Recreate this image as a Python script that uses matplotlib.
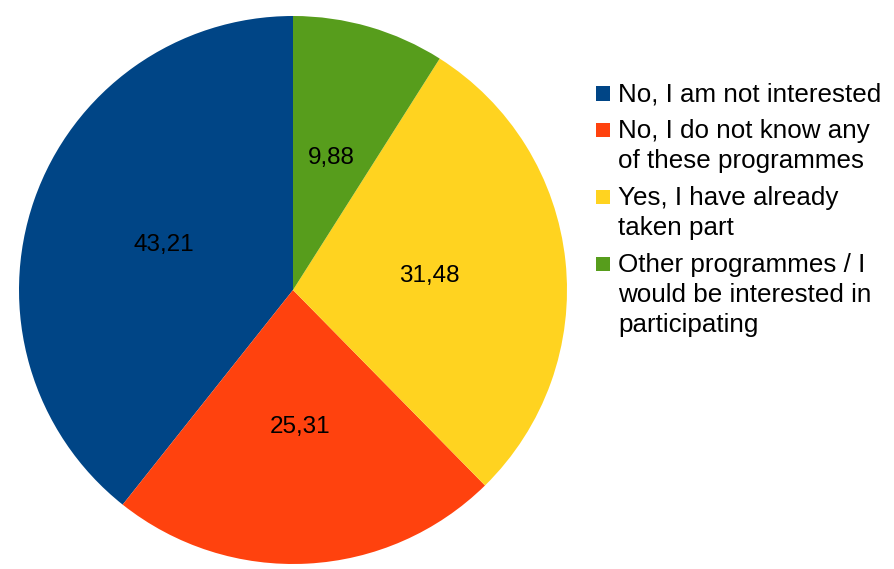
import matplotlib.pyplot as plt
from matplotlib.patches import Rectangle

plt.rcParams["font.family"] = ["Liberation Sans", "DejaVu Sans"]

labels = [
    "No, I am not interested",
    "No, I do not know any\nof these programmes",
    "Yes, I have already\ntaken part",
    "Other programmes / I\nwould be interested in\nparticipating",
]
values = [43.21, 25.31, 31.48, 9.88]
colors = ["#004586", "#ff420e", "#ffd320", "#579d1c"]

W, H = 895, 569
fig = plt.figure(figsize=(W / 100, H / 100), dpi=100)

# pie: centre (293, 290) px, radius 274 px
cx, cy, r = 293, 290, 274
ax = fig.add_axes([(cx - r) / W, (H - cy - r) / H, 2 * r / W, 2 * r / H])
value_text = [f"{v:.2f}".replace(".", ",") for v in values]
ax.pie(values, colors=colors, startangle=90, counterclock=True,
       labels=value_text, labeldistance=0.5,
       textprops={"fontsize": 17.5, "color": "black", "ha": "center", "va": "center"},
       wedgeprops={"linewidth": 0})
ax.set_xlim(-1, 1)
ax.set_ylim(-1, 1)
ax.set_aspect("equal")
ax.axis("off")

# legend drawn by hand so the key squares sit beside the first line
y = 101.5  # baseline of first line, px from top
line_h = 30
gap = 36.7
for lab, col in zip(labels, colors):
    fig.patches.append(Rectangle((596 / W, 1 - (y - 1) / H), 14 / W, 14 / H,
                                 transform=fig.transFigure, facecolor=col,
                                 edgecolor="none"))
    lines = lab.split("\n")
    for k, line in enumerate(lines):
        fig.text(618 / W, 1 - (y + k * line_h) / H, line, fontsize=18.7,
                 va="baseline", ha="left")
    y += (len(lines) - 1) * line_h + gap

fig.savefig("out.png", dpi=100)
